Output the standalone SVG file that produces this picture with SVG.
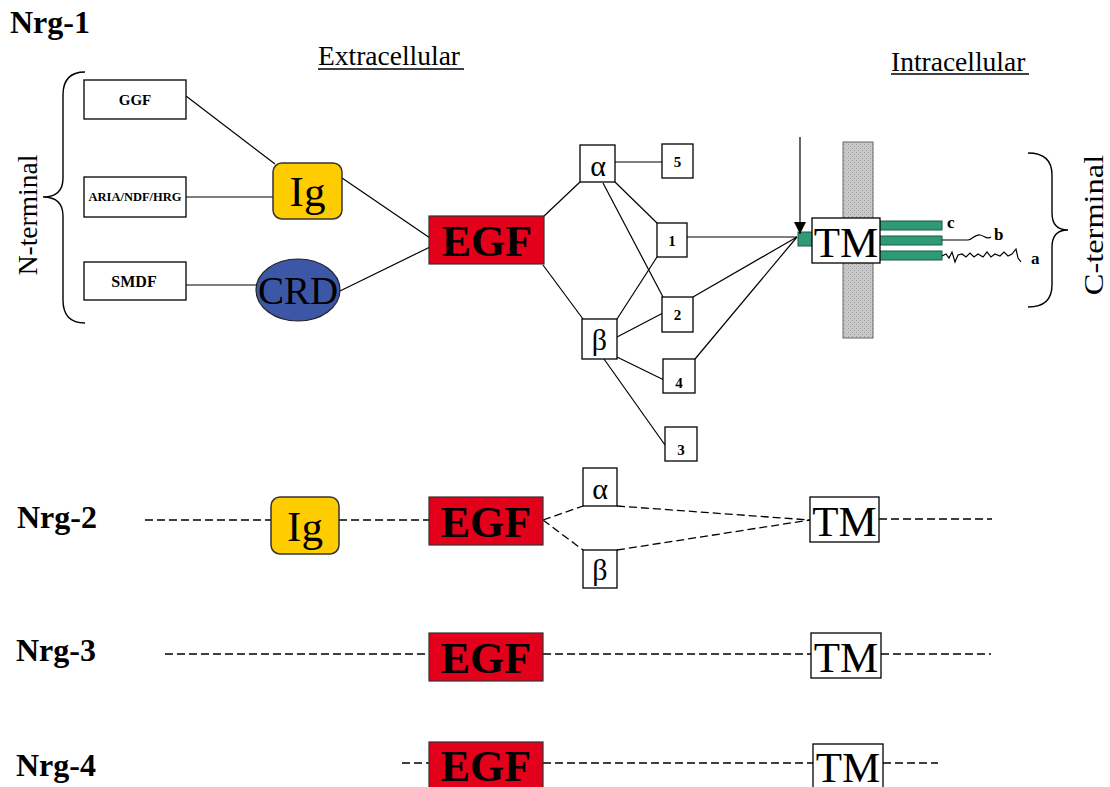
<svg xmlns="http://www.w3.org/2000/svg" width="1110" height="787" viewBox="0 0 1110 787">
<style>
  .ser { font-family: "Liberation Serif", "Times New Roman", serif; }
  .bold { font-weight: bold; }
  .box { fill: #ffffff; stroke: #000; stroke-width: 1.3; }
  .egf { fill: #e2001a; stroke: #333; stroke-width: 1.2; }
  .ig { fill: #ffcc00; stroke: #333; stroke-width: 1.5; }
  .crd { fill: #3d57a7; stroke: #222; stroke-width: 1.2; }
  .grn { fill: #2e9a78; stroke: #1a5a45; stroke-width: 1; }
  .ln { stroke: #000; stroke-width: 1.2; fill: none; }
  .dash { stroke: #000; stroke-width: 1.3; fill: none; stroke-dasharray: 8 4; }
  .brace { stroke: #000; stroke-width: 1.4; fill: none; }
</style>
<defs>
  <pattern id="stip" width="4" height="4" patternUnits="userSpaceOnUse">
    <rect width="4" height="4" fill="#c9c9c9"/>
    <rect x="0" y="0" width="1" height="1" fill="#9a9a9a"/>
    <rect x="2" y="2" width="1" height="1" fill="#9a9a9a"/>
  </pattern>
  <marker id="arr" markerWidth="12" markerHeight="12" refX="10" refY="5" orient="auto" markerUnits="userSpaceOnUse" viewBox="0 0 10 10">
    <path d="M0,0 L10,5 L0,10 Z" fill="#000"/>
  </marker>
</defs>
<rect width="1110" height="787" fill="#ffffff"/>

<!-- Titles and labels -->
<text class="ser bold" x="10" y="33" font-size="32">Nrg-1</text>
<text class="ser" x="318" y="65" font-size="27.5">Extracellular</text>
<line x1="318" y1="69" x2="464" y2="69" stroke="#000" stroke-width="1.5"/>
<text class="ser" x="891" y="71" font-size="27.5">Intracellular</text>
<line x1="891" y1="74" x2="1029" y2="74" stroke="#000" stroke-width="1.5"/>
<text class="ser" font-size="27.5" text-anchor="middle" transform="translate(37,215) rotate(-90)">N-terminal</text>
<text class="ser" font-size="27" text-anchor="middle" transform="translate(1103,225) rotate(-90) scale(1.2,1)">C-terminal</text>
<path class="brace" d="M 85 72 Q 63 72 63 95 L 63 178 Q 63 197 43 197 Q 63 197 63 216 L 63 300 Q 63 323 85 323"/>
<path class="brace" d="M 1028 153 Q 1052 153 1052 175 L 1052 213 Q 1052 230 1068 230 Q 1052 230 1052 247 L 1052 285 Q 1052 307 1028 307"/>

<text class="ser bold" x="17" y="528" font-size="32">Nrg-2</text>
<text class="ser bold" x="16" y="661" font-size="32">Nrg-3</text>
<text class="ser bold" x="16" y="776" font-size="32">Nrg-4</text>

<!-- Connectors -->
<g id="connectors">
  <line class="ln" x1="186" y1="96" x2="275" y2="164"/>
  <line class="ln" x1="186" y1="197" x2="273" y2="197"/>
  <line class="ln" x1="186" y1="285" x2="256" y2="285"/>
  <line class="ln" x1="342" y1="178" x2="430" y2="238"/>
  <line class="ln" x1="340" y1="291" x2="430" y2="247"/>
  <line class="ln" x1="543" y1="217" x2="580" y2="182"/>
  <line class="ln" x1="543" y1="265" x2="583" y2="319"/>
  <line class="ln" x1="615" y1="162" x2="662" y2="162"/>
  <line class="ln" x1="615" y1="182" x2="657" y2="223"/>
  <line class="ln" x1="603" y1="183" x2="663" y2="297"/>
  <line class="ln" x1="617" y1="319" x2="657" y2="257"/>
  <line class="ln" x1="617" y1="337" x2="663" y2="313"/>
  <line class="ln" x1="617" y1="357" x2="664" y2="380"/>
  <line class="ln" x1="604" y1="359" x2="665" y2="445"/>
  <line class="ln" x1="687" y1="237" x2="797" y2="237"/>
  <line class="ln" x1="693" y1="297" x2="797" y2="237"/>
  <line class="ln" x1="695" y1="359" x2="797" y2="237"/>
  <!-- Nrg-2 -->
  <line class="dash" x1="145" y1="520" x2="271" y2="520"/>
  <line class="dash" x1="339" y1="520" x2="429" y2="520"/>
  <line class="dash" x1="543" y1="520" x2="583" y2="506"/>
  <line class="dash" x1="543" y1="520" x2="583" y2="550"/>
  <line class="dash" x1="617" y1="506" x2="810" y2="520"/>
  <line class="dash" x1="617" y1="550" x2="810" y2="520"/>
  <line class="dash" x1="879" y1="519" x2="992" y2="519"/>
  <!-- Nrg-3 -->
  <line class="dash" x1="165" y1="654" x2="429" y2="654"/>
  <line class="dash" x1="543" y1="654" x2="811" y2="654"/>
  <line class="dash" x1="881" y1="654" x2="991" y2="654"/>
  <!-- Nrg-4 -->
  <line class="dash" x1="402" y1="763" x2="429" y2="763"/>
  <line class="dash" x1="543" y1="763" x2="813" y2="763"/>
  <line class="dash" x1="883" y1="763" x2="938" y2="763"/>
</g>

<!-- Nrg-1 nodes -->
<g id="ggf"><rect class="box" x="84" y="80" width="102" height="39"/><text class="ser bold" x="135" y="105" font-size="15" text-anchor="middle">GGF</text></g>
<g id="aria"><rect class="box" x="84" y="177" width="102" height="40"/><text class="ser bold" x="135" y="201" font-size="12.5" text-anchor="middle">ARIA/NDF/HRG</text></g>
<g id="smdf"><rect class="box" x="84" y="262" width="102" height="38"/><text class="ser bold" x="134" y="287" font-size="16" text-anchor="middle">SMDF</text></g>
<g id="ig1"><rect class="ig" x="273" y="163" width="69" height="56" rx="9"/><text class="ser" x="307.5" y="206" font-size="43" text-anchor="middle">Ig</text></g>
<g id="crd"><ellipse class="crd" cx="298" cy="290" rx="42" ry="31"/><text class="ser" x="298" y="304" font-size="39" text-anchor="middle">CRD</text></g>
<g id="egf1"><rect class="egf" x="429" y="216" width="115" height="48"/><text class="ser bold" x="487" y="256" font-size="44" text-anchor="middle">EGF</text></g>
<g id="alpha1"><rect class="box" x="580" y="145" width="35" height="37"/><text class="ser" x="598" y="176" font-size="30" text-anchor="middle">α</text></g>
<g id="beta1"><rect class="box" x="582" y="319" width="35" height="40"/><text class="ser" x="599.5" y="350" font-size="30" text-anchor="middle">β</text></g>
<g id="n5"><rect class="box" x="662" y="144" width="31" height="34"/><text class="ser bold" x="677.5" y="167" font-size="15" text-anchor="middle">5</text></g>
<g id="n1"><rect class="box" x="657" y="223" width="30" height="34"/><text class="ser bold" x="672" y="246" font-size="15" text-anchor="middle">1</text></g>
<g id="n2"><rect class="box" x="662" y="297" width="31" height="35"/><text class="ser bold" x="677.5" y="320" font-size="15" text-anchor="middle">2</text></g>
<g id="n4"><rect class="box" x="663" y="359" width="32" height="34"/><text class="ser bold" x="679" y="388" font-size="15" text-anchor="middle">4</text></g>
<g id="n3"><rect class="box" x="665" y="427" width="32" height="34"/><text class="ser bold" x="681" y="455" font-size="15" text-anchor="middle">3</text></g>

<g id="membrane"><rect x="843" y="142" width="30" height="196" fill="url(#stip)" stroke="#666" stroke-width="1"/></g>
<g id="tails">
  <rect class="grn" x="870" y="221" width="72" height="9"/>
  <rect class="grn" x="870" y="236" width="72" height="9"/>
  <rect class="grn" x="870" y="251" width="72" height="9"/>
  <path class="ln" d="M 942 240 L 968 240 C 972 240 975 234 980 235 C 985 236 987 240 991 237"/>
  <path class="ln" d="M 942 256 L 946 254 L 949 258 L 952 252 L 955 262 L 958 255 L 962 254 L 966 257 L 970 253 L 974 257 L 978 254 L 983 257 L 987 252 L 991 257 L 995 254 L 1000 256 L 1004 252 L 1008 256 L 1012 254 L 1016 249 L 1018 258 L 1021 262"/>
  <text class="ser bold" x="947" y="228" font-size="17">c</text>
  <text class="ser bold" x="994" y="240" font-size="17">b</text>
  <text class="ser bold" x="1031" y="264" font-size="17">a</text>
</g>
<g id="tm1"><rect class="grn" x="798" y="232" width="15" height="14"/><rect class="box" x="812" y="218" width="68" height="45"/><text class="ser" x="846" y="257" font-size="43" text-anchor="middle">TM</text></g>
<g id="cleavage-arrow"><line class="ln" x1="800" y1="137" x2="800" y2="234" marker-end="url(#arr)"/></g>

<!-- Nrg-2 nodes -->
<g id="ig2"><rect class="ig" x="271" y="497" width="68" height="57" rx="9"/><text class="ser" x="305" y="541" font-size="43" text-anchor="middle">Ig</text></g>
<g id="egf2"><rect class="egf" x="429" y="497" width="114" height="48"/><text class="ser bold" x="486" y="537" font-size="44" text-anchor="middle">EGF</text></g>
<g id="alpha2"><rect class="box" x="583" y="468" width="34" height="38"/><text class="ser" x="600" y="499" font-size="30" text-anchor="middle">α</text></g>
<g id="beta2"><rect class="box" x="583" y="550" width="34" height="38"/><text class="ser" x="600" y="580" font-size="30" text-anchor="middle">β</text></g>
<g id="tm2"><rect class="box" x="810" y="497" width="69" height="45"/><text class="ser" x="844.5" y="536" font-size="43" text-anchor="middle">TM</text></g>

<!-- Nrg-3 nodes -->
<g id="egf3"><rect class="egf" x="429" y="633" width="114" height="48"/><text class="ser bold" x="486" y="673" font-size="44" text-anchor="middle">EGF</text></g>
<g id="tm3"><rect class="box" x="811" y="633" width="70" height="45"/><text class="ser" x="846" y="672" font-size="43" text-anchor="middle">TM</text></g>

<!-- Nrg-4 nodes -->
<g id="egf4"><rect class="egf" x="429" y="742" width="114" height="48"/><text class="ser bold" x="486" y="781" font-size="44" text-anchor="middle">EGF</text></g>
<g id="tm4"><rect class="box" x="813" y="744" width="70" height="45"/><text class="ser" x="848" y="782" font-size="43" text-anchor="middle">TM</text></g>
</svg>
